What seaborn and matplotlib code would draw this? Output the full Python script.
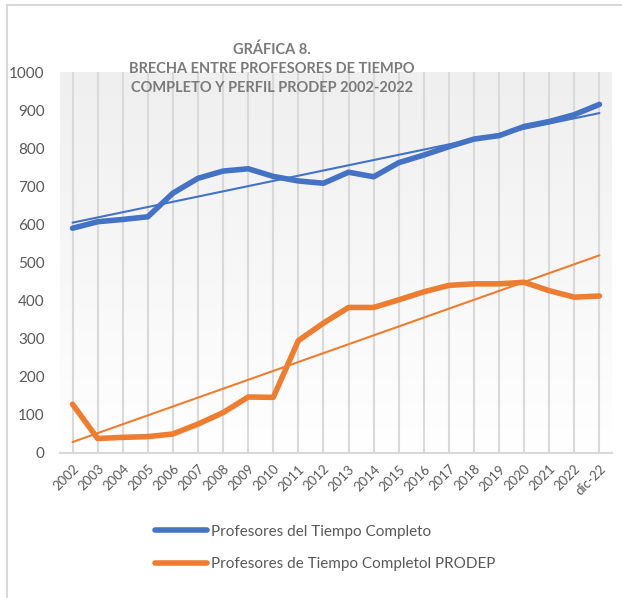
import numpy as np
import pandas as pd
import matplotlib
matplotlib.use('Agg')
import matplotlib.pyplot as plt
from matplotlib.patches import Rectangle
from matplotlib.colors import LinearSegmentedColormap
import seaborn as sns

# datos
anios = ['2002', '2003', '2004', '2005', '2006', '2007', '2008', '2009', '2010',
         '2011', '2012', '2013', '2014', '2015', '2016', '2017', '2018', '2019',
         '2020', '2021', '2022', 'dic-22']
ptc = [590, 607, 613, 620, 682, 721, 740, 746, 726, 714, 708, 737, 725, 762,
       782, 804, 824, 833, 857, 870, 888, 915]
ptc_prodep = [128, 38, 41, 43, 50, 76, 106, 147, 146, 295, 341, 382, 382, 402,
              423, 440, 444, 444, 448, 426, 409, 412]

titulo = 'GRÁFICA 8.\nBRECHA ENTRE PROFESORES DE TIEMPO\nCOMPLETO Y PERFIL PRODEP 2002-2022'
etiquetas = ['Profesores del Tiempo Completo', 'Profesores de Tiempo Completol PRODEP']

azul = '#4472C4'
naranja = '#ED7D31'
gris = '#595959'

sns.set_style('white')
plt.rcParams['font.family'] = ['Lato', 'DejaVu Sans']

df = pd.DataFrame({'i': np.arange(len(anios)), 'ptc': ptc, 'prodep': ptc_prodep})

fig = plt.figure(figsize=(6.22, 5.98), dpi=100)
ax = fig.add_axes([60/622, 1-453/598, 552/622, 381/598])

# fondo degradado del area de trazado
cmap = LinearSegmentedColormap.from_list('fondo', ['#ffffff', '#efefef'])
grad = np.linspace(0, 1, 256).reshape(-1, 1)
ax.imshow(grad, extent=[-0.5, 21.5, 1000, 0], aspect='auto', cmap=cmap, zorder=0)

sns.lineplot(data=df, x='i', y='ptc', color=azul, lw=4, ax=ax, label=etiquetas[0],
             solid_capstyle='round', zorder=3)
sns.lineplot(data=df, x='i', y='prodep', color=naranja, lw=4, ax=ax, label=etiquetas[1],
             solid_capstyle='round', zorder=3)
# lineas de tendencia
sns.regplot(data=df, x='i', y='ptc', scatter=False, ci=None, ax=ax,
            line_kws={'color': azul, 'lw': 1.5, 'zorder': 4})
sns.regplot(data=df, x='i', y='prodep', scatter=False, ci=None, ax=ax,
            line_kws={'color': naranja, 'lw': 1.5, 'zorder': 4})

ax.set_xlim(-0.5, 21.5)
ax.set_ylim(0, 1000)
ax.set_xticks(df['i'])
ax.set_xticklabels(anios, rotation=45, ha='right', rotation_mode='anchor',
                   fontsize=9.5, color=gris)
ax.set_yticks(range(0, 1001, 100))
ax.tick_params(axis='y', labelsize=11, labelcolor=gris, length=0, pad=11)
ax.tick_params(axis='x', length=0, pad=7)
ax.set_xlabel('')
ax.set_ylabel('')
ax.xaxis.grid(True, color='#d9d9d9', lw=1.5, zorder=1)
ax.yaxis.grid(False)
ax.set_axisbelow(True)
for s in ['top', 'right', 'left']:
    ax.spines[s].set_visible(False)
ax.spines['bottom'].set_color('#d9d9d9')
ax.spines['bottom'].set_linewidth(1.5)

ax.get_legend().remove()
h, l = ax.get_legend_handles_labels()
fig.legend(h[:2], l[:2], loc='upper left', bbox_to_anchor=(141/622, 1-511/598),
           frameon=False, fontsize=11, labelcolor=gris, handlelength=3.45,
           handletextpad=0.25, labelspacing=1.2)

fig.text(272/622, 1-43/598, titulo, ha='center', va='top', fontsize=10.5,
         fontweight='bold', color='#7a7a7a', linespacing=1.45)

# borde exterior
fig.add_artist(Rectangle((6.5/622, -0.1), 2, 1.1 - 5.5/598, transform=fig.transFigure,
                         fill=False, ec='#d9d9d9', lw=1.5))

fig.savefig('out.png', dpi=100)
